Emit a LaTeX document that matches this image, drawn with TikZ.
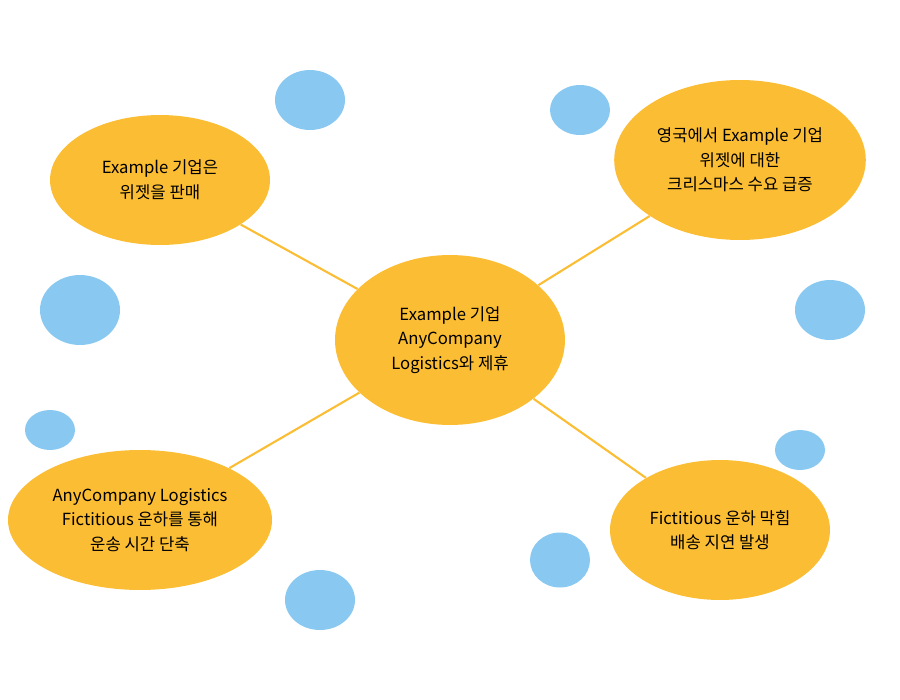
\documentclass[tikz,border=0pt]{standalone}
\usepackage{fontspec}
\setmainfont{Noto Sans CJK KR}
\usetikzlibrary{shapes.geometric}
\definecolor{idea}{HTML}{FBBD33}
\definecolor{bubble}{HTML}{89C8F0}
\tikzset{%
	% Specifications for style of nodes:
	topic/.style = {ellipse, fill=idea, draw=none, align=center,
		font=\fontsize{9.5}{14}\selectfont},
	dot/.style = {ellipse, fill=bubble, draw=none, inner sep=0pt},
	link/.style = {draw=idea, line width=1.2pt}
}
\begin{document}
\begin{tikzpicture}[x=0.02cm, y=-0.02cm]
	\useasboundingbox (0,0) rectangle (900,700);
	% Bubbles
	\node (b1) [dot, minimum width=1.4cm, minimum height=1.2cm] at (310,100) {};
	\node (b2) [dot, minimum width=1.2cm, minimum height=1.0cm] at (580,110) {};
	\node (b3) [dot, minimum width=1.6cm, minimum height=1.4cm] at (80,310) {};
	\node (b4) [dot, minimum width=1.4cm, minimum height=1.2cm] at (830,310) {};
	\node (b5) [dot, minimum width=1.0cm, minimum height=0.8cm] at (50,430) {};
	\node (b6) [dot, minimum width=1.0cm, minimum height=0.8cm] at (800,450) {};
	\node (b7) [dot, minimum width=1.2cm, minimum height=1.1cm] at (560,560) {};
	\node (b8) [dot, minimum width=1.4cm, minimum height=1.2cm] at (320,600) {};
	% Topics
	\node (hub) [topic, minimum width=4.6cm, minimum height=3.4cm] at (450,340) {Example 기업\\AnyCompany\\Logistics와 제휴};
	\node (sell) [topic, minimum width=4.4cm, minimum height=2.6cm] at (160,180) {Example 기업은\\위젯을 판매};
	\node (peak) [topic, minimum width=4.4cm, minimum height=3.2cm] at (740,160) {영국에서 Example 기업\\위젯에 대한\\크리스마스 수요 급증};
	\node (canal) [topic, minimum width=5.0cm, minimum height=2.8cm] at (140,520) {AnyCompany Logistics\\Fictitious 운하를 통해\\운송 시간 단축};
	\node (block) [topic, minimum width=4.4cm, minimum height=2.8cm] at (720,530) {Fictitious 운하 막힘\\배송 지연 발생};
	
	\draw[link] (hub) -- (sell);
	\draw[link] (hub) -- (peak);
	\draw[link] (hub) -- (canal);
	\draw[link] (hub) -- (block);
\end{tikzpicture}
\end{document}
